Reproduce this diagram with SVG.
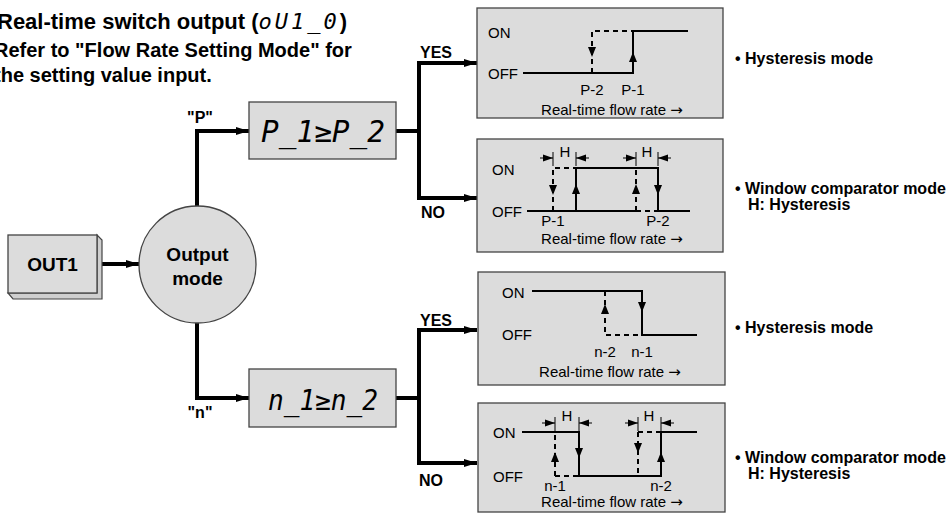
<svg xmlns="http://www.w3.org/2000/svg" width="950" height="515" viewBox="0 0 950 515">
<defs>
<style>
.bg{fill:#ffffff}
.box{fill:#dcdcdc;stroke:#444;stroke-width:1.3}
.conn{fill:none;stroke:#000;stroke-width:4}
.g{fill:none;stroke:#000;stroke-width:2}
.gd{fill:none;stroke:#000;stroke-width:2;stroke-dasharray:5 4}
.tick{fill:none;stroke:#000;stroke-width:1}
.ah{fill:#000;stroke:none}
.title{font-family:"Liberation Sans",Arial,sans-serif;font-weight:bold;fill:#000}
.lbl{font-family:"Liberation Sans",Arial,sans-serif;font-weight:bold;font-size:16px;fill:#000}
.big{font-family:"Liberation Sans",Arial,sans-serif;font-weight:bold;font-size:19px;fill:#000}
.gt{font-family:"Liberation Sans",Arial,sans-serif;font-size:15px;fill:#000}
.ar{font-family:"DejaVu Sans",sans-serif;font-size:15px}
.seg{font-family:"DejaVu Sans Mono",monospace;font-style:oblique;fill:#000}
</style>
<marker id="arr" markerUnits="userSpaceOnUse" markerWidth="14" markerHeight="10" refX="13" refY="5" orient="auto">
<path d="M0,1 L13,5 L0,9 Z" fill="#000"/>
</marker>
<marker id="sarr" markerUnits="userSpaceOnUse" markerWidth="10" markerHeight="8" refX="10" refY="4" orient="auto">
<path d="M0,0.5 L10,4 L0,7.5 Z" fill="#000"/>
</marker>
</defs>
<rect class="bg" x="0" y="0" width="950" height="515"/>

<g id="title">
<text class="title" x="-3" y="29" font-size="22">Real-time switch output (<tspan class="seg" font-size="22" font-weight="normal" letter-spacing="3">oU1_0</tspan>)</text>
<text class="title" x="-6" y="57" font-size="20">Refer to "Flow Rate Setting Mode" for</text>
<text class="title" x="-6" y="82" font-size="20">the setting value input.</text>
</g>

<g id="connectors">
<path class="conn" d="M101,264 H139" marker-end="url(#arr)"/>
<path class="conn" d="M197,206 V131 H249" marker-end="url(#arr)"/>
<path class="conn" d="M396,131 H419"/>
<path class="conn" d="M419,133 V63 H477" marker-end="url(#arr)"/>
<path class="conn" d="M419,129 V198 H477" marker-end="url(#arr)"/>
<path class="conn" d="M197,323 V398 H249" marker-end="url(#arr)"/>
<path class="conn" d="M396,398 H419"/>
<path class="conn" d="M419,400 V330 H477" marker-end="url(#arr)"/>
<path class="conn" d="M419,396 V463 H477" marker-end="url(#arr)"/>
<text class="lbl" x="200" y="123" text-anchor="middle">"P"</text>
<text class="lbl" x="200" y="418" text-anchor="middle">"n"</text>
<text class="lbl" x="420" y="58">YES</text>
<text class="lbl" x="421" y="218">NO</text>
<text class="lbl" x="420" y="326">YES</text>
<text class="lbl" x="419" y="486">NO</text>
</g>

<g id="out1">
<polygon points="97,235 102,240 102,299 13,299 8,293 97,293" fill="#cfcfcf" stroke="#444" stroke-width="1.2"/>
<rect class="box" x="8" y="235" width="89" height="58"/>
<text class="big" x="52.5" y="271" text-anchor="middle">OUT1</text>
</g>

<g id="output-mode">
<circle class="box" cx="197.5" cy="264.5" r="58.5"/>
<text class="big" x="197.5" y="261" text-anchor="middle">Output</text>
<text class="big" x="197.5" y="285" text-anchor="middle">mode</text>
</g>

<g id="p-compare">
<rect class="box" x="249" y="102" width="147" height="57"/>
<text class="seg" x="323" y="142" font-size="30" text-anchor="middle" textLength="124" lengthAdjust="spacingAndGlyphs">P_1≥P_2</text>
</g>

<g id="n-compare">
<rect class="box" x="249" y="369" width="147" height="58"/>
<text class="seg" x="323" y="410" font-size="28" text-anchor="middle" textLength="110" lengthAdjust="spacingAndGlyphs">n_1≥n_2</text>
</g>

<g id="p-hysteresis">
<rect class="box" x="477" y="8" width="246" height="110"/>
<text class="gt" x="488" y="38">ON</text>
<text class="gt" x="488" y="79">OFF</text>
<path class="g" d="M523,73 H633 V31 H688"/>
<path class="gd" d="M592,73 V31 H633"/>
<polygon class="ah" points="588,47 596,47 592,57"/>
<polygon class="ah" points="629,62 637,62 633,52"/>
<text class="gt" x="592" y="95" text-anchor="middle">P-2</text>
<text class="gt" x="633" y="95" text-anchor="middle">P-1</text>
<text class="gt" x="612" y="115" text-anchor="middle">Real-time flow rate <tspan class="ar">→</tspan></text>
</g>

<g id="p-window">
<rect class="box" x="477" y="139" width="246" height="113"/>
<text class="gt" x="492" y="175">ON</text>
<text class="gt" x="492" y="217">OFF</text>
<path class="g" d="M527,211 H636 M658,211 H690 M576,211 V168 H658 V211"/>
<path class="gd" d="M636,211 H658 M553,211 V168 H576 M636,211 V168"/>
<polygon class="ah" points="549,185 557,185 553,195"/>
<polygon class="ah" points="572,194 580,194 576,184"/>
<polygon class="ah" points="632,194 640,194 636,184"/>
<polygon class="ah" points="654,185 662,185 658,195"/>
<path class="tick" d="M553,152 V166 M576,152 V166 M636,152 V166 M658,152 V166"/>
<path class="tick" d="M540,158 H553" marker-end="url(#sarr)"/>
<path class="tick" d="M589,158 H576" marker-end="url(#sarr)"/>
<path class="tick" d="M623,158 H636" marker-end="url(#sarr)"/>
<path class="tick" d="M671,158 H658" marker-end="url(#sarr)"/>
<text class="gt" x="565" y="157" text-anchor="middle">H</text>
<text class="gt" x="647" y="157" text-anchor="middle">H</text>
<text class="gt" x="553" y="226" text-anchor="middle">P-1</text>
<text class="gt" x="658" y="226" text-anchor="middle">P-2</text>
<text class="gt" x="612" y="244" text-anchor="middle">Real-time flow rate <tspan class="ar">→</tspan></text>
</g>

<g id="n-hysteresis">
<rect class="box" x="478" y="272" width="247" height="113"/>
<text class="gt" x="502" y="298">ON</text>
<text class="gt" x="502" y="340">OFF</text>
<path class="g" d="M532,291 H642 V335 H697"/>
<path class="gd" d="M605,291 V335 H642"/>
<polygon class="ah" points="638,302 646,302 642,312"/>
<polygon class="ah" points="601,314 609,314 605,304"/>
<text class="gt" x="605" y="357" text-anchor="middle">n-2</text>
<text class="gt" x="642" y="357" text-anchor="middle">n-1</text>
<text class="gt" x="610" y="377" text-anchor="middle">Real-time flow rate <tspan class="ar">→</tspan></text>
</g>

<g id="n-window">
<rect class="box" x="478" y="403" width="247" height="109"/>
<text class="gt" x="493" y="438">ON</text>
<text class="gt" x="493" y="482">OFF</text>
<path class="g" d="M522,432 H579 V476 H661 V432 H697"/>
<path class="gd" d="M555,476 V432 M555,476 H579 M638,432 V476 M638,432 H661"/>
<polygon class="ah" points="551,462 559,462 555,452"/>
<polygon class="ah" points="575,448 583,448 579,458"/>
<polygon class="ah" points="634,443 642,443 638,453"/>
<polygon class="ah" points="657,462 665,462 661,452"/>
<path class="tick" d="M555,417 V431 M579,417 V431 M638,417 V431 M661,417 V431"/>
<path class="tick" d="M542,423 H555" marker-end="url(#sarr)"/>
<path class="tick" d="M592,423 H579" marker-end="url(#sarr)"/>
<path class="tick" d="M625,423 H638" marker-end="url(#sarr)"/>
<path class="tick" d="M674,423 H661" marker-end="url(#sarr)"/>
<text class="gt" x="567" y="421" text-anchor="middle">H</text>
<text class="gt" x="649" y="421" text-anchor="middle">H</text>
<text class="gt" x="555" y="491" text-anchor="middle">n-1</text>
<text class="gt" x="661" y="491" text-anchor="middle">n-2</text>
<text class="gt" x="612" y="507" text-anchor="middle">Real-time flow rate <tspan class="ar">→</tspan></text>
</g>

<g id="mode-labels">
<text class="lbl" x="735" y="64">• Hysteresis mode</text>
<text class="lbl" x="735" y="194">• Window comparator mode</text>
<text class="lbl" x="748" y="210">H: Hysteresis</text>
<text class="lbl" x="735" y="333">• Hysteresis mode</text>
<text class="lbl" x="735" y="463">• Window comparator mode</text>
<text class="lbl" x="748" y="479">H: Hysteresis</text>
</g>
</svg>
